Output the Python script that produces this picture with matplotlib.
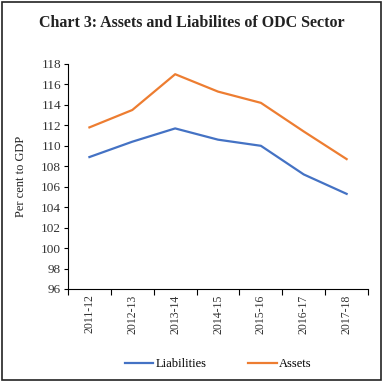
import matplotlib
matplotlib.use("Agg")
import matplotlib.pyplot as plt
from matplotlib.patches import Rectangle

years = ["2011-12", "2012-13", "2013-14", "2014-15", "2015-16", "2016-17", "2017-18"]
liabilities = [108.9, 110.4, 111.7, 110.6, 110.0, 107.2, 105.3]
assets = [111.8, 113.5, 117.0, 115.3, 114.2, 111.4, 108.7]
yticks = list(range(96, 119, 2))

plt.rcParams['font.family'] = ['Liberation Serif', 'DejaVu Serif']

fig = plt.figure(figsize=(3.83, 3.82), dpi=100)
ax = fig.add_axes([0.1775, 0.2435, 0.7835, 0.589])

x = list(range(len(years)))
ax.plot(x, liabilities, color="#4472C4", lw=1.6, label="Liabilities")
ax.plot(x, assets, color="#ED7D31", lw=1.6, label="Assets")

ax.set_xlim(-0.5, len(years) - 0.5)
ax.set_ylim(96, 118)
ax.set_yticks(yticks)
ax.set_yticklabels([str(t) for t in yticks], fontsize=9.5, color="#333333")
ax.set_xticks([i - 0.5 for i in range(len(years) + 1)], minor=False)
ax.set_xticklabels([])
ax.set_xticks(x, minor=True)
ax.set_xticklabels(years, minor=True, rotation=90, fontsize=8.5, color="#333333")
ax.tick_params(axis="x", which="minor", length=0, pad=4)
ax.tick_params(axis="x", which="major", length=4, direction="out", width=0.8)
ax.tick_params(axis="y", length=3, direction="out", width=0.8, pad=2)
for s in ["top", "right"]:
    ax.spines[s].set_visible(False)
ax.spines["left"].set_linewidth(0.8)
ax.spines["bottom"].set_linewidth(0.8)

ax.set_ylabel("Per cent to GDP", fontsize=9, color="#222222", labelpad=10)

fig.text(0.5, 0.94, "Chart 3: Assets and Liabilites of ODC Sector", ha="center", va="center",
         fontsize=11.5, fontweight="bold", color="#222222")

fig.legend(loc="center", bbox_to_anchor=(0.57, 0.047), ncol=2, frameon=False,
           fontsize=9, handlelength=2.3, handletextpad=0.2, columnspacing=3.3)

fig.patches.append(Rectangle((0.005, 0.005), 0.99, 0.99, transform=fig.transFigure,
                             fill=False, edgecolor="#222222", lw=1.2))

fig.savefig("out.png", dpi=100)
